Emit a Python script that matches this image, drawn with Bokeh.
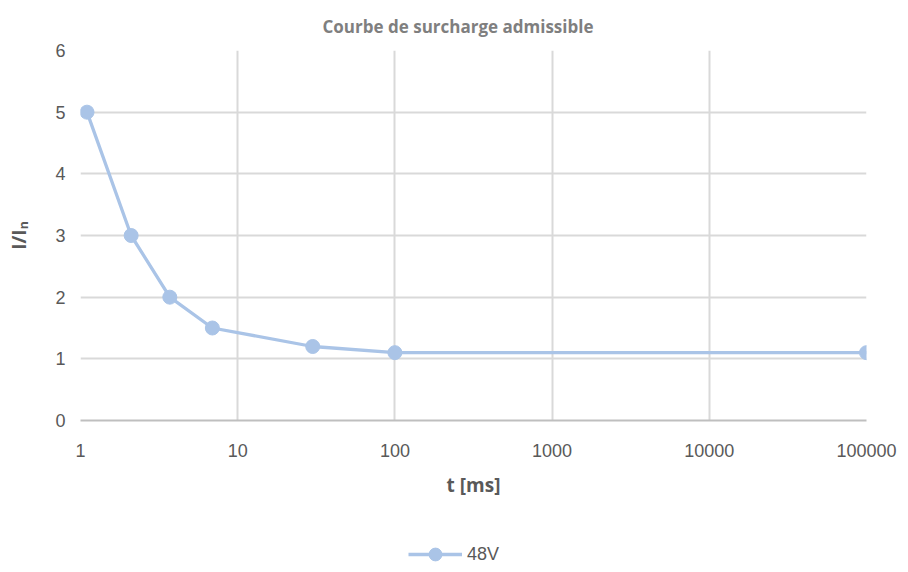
from bokeh.plotting import figure
from bokeh.models import FixedTicker, Legend, LegendItem, Range1d
from bokeh.layouts import column
from bokeh.embed import file_html
from bokeh.resources import INLINE

t_ms = [1.1, 2.1, 3.7, 6.9, 30, 100, 100000]
i_ratio = [5, 3, 2, 1.5, 1.2, 1.1, 1.1]
series_name = "48V"
x_ticks = [1, 10, 100, 1000, 10000, 100000]
x_tick_labels = ["1", "10", "100", "1000", "10000", "100000"]
y_ticks = [0, 1, 2, 3, 4, 5, 6]

color = "#AAC4E7"
grid_color = "#D9D9D9"
text_color = "#595959"
tick_font = "Liberation Sans"

p = figure(width=900, height=524, x_axis_type="log",
           x_range=Range1d(1, 100000), y_range=Range1d(0, 6),
           output_backend="svg", toolbar_location=None,
           min_border_left=80, min_border_right=34,
           min_border_top=50, min_border_bottom=104)
p.outline_line_color = None

p.title.text = "Courbe de surcharge admissible"
p.title.align = "left"
p.title.offset = 242
p.title.standoff = 25
p.title.text_font = "Open Sans"
p.title.text_font_style = "bold"
p.title.text_font_size = "17px"
p.title.text_color = "#7F7F7F"

p.line(t_ms, i_ratio, line_color=color, line_width=3.3)
p.scatter(t_ms, i_ratio, size=14, fill_color=color, line_color=color)

p.xaxis.ticker = FixedTicker(ticks=x_ticks, minor_ticks=[])
p.xaxis.major_label_overrides = {float(v): s for v, s in zip(x_ticks, x_tick_labels)}
p.yaxis.ticker = FixedTicker(ticks=y_ticks, minor_ticks=[])

for ax in (p.xaxis, p.yaxis):
    ax.major_tick_line_color = None
    ax.minor_tick_line_color = None
    ax.major_label_text_font = tick_font
    ax.major_label_text_font_size = "18px"
    ax.major_label_text_color = text_color
    ax.axis_label_text_font = "Open Sans"
    ax.axis_label_text_font_style = "bold"
    ax.axis_label_text_font_size = "19px"
    ax.axis_label_text_color = text_color

p.xaxis.axis_label = "t [ms]"
p.xaxis.axis_line_color = "#BFBFBF"
p.xaxis.axis_line_width = 2
p.xaxis.major_label_standoff = 17
p.xaxis.axis_label_standoff = 12
p.yaxis.axis_label = "I/Iₙ"
p.yaxis.axis_line_color = None
p.yaxis.major_label_standoff = 9
p.yaxis.axis_label_standoff = 20

p.xgrid.grid_line_color = grid_color
p.xgrid.grid_line_width = 2
p.ygrid.grid_line_color = grid_color
p.ygrid.grid_line_width = 2

# legend strip below the chart
lg = figure(width=900, height=46, output_backend="svg", toolbar_location=None,
            x_axis_location=None, y_axis_location=None, min_border=0,
            x_range=Range1d(1, 100000), y_range=Range1d(0, 6), x_axis_type="log")
lg.outline_line_color = None
lg.grid.visible = False
key_line = lg.line(t_ms, i_ratio, line_color=color, line_width=3.3, visible=False)
key_pts = lg.scatter(t_ms, i_ratio, size=14, fill_color=color, line_color=color, visible=False)

legend = Legend(items=[LegendItem(label=series_name, renderers=[key_line, key_pts])],
                location=(328, 0), orientation="horizontal",
                border_line_color=None, background_fill_alpha=0,
                inactive_fill_alpha=0,
                label_text_font=tick_font, label_text_font_size="18px",
                label_text_color=text_color, glyph_width=54, glyph_height=32,
                label_height=32, label_standoff=5, padding=0, margin=0)
lg.add_layout(legend, "center")

layout = column(p, lg, spacing=0)
open("out.html", "w").write(file_html(layout, INLINE))
